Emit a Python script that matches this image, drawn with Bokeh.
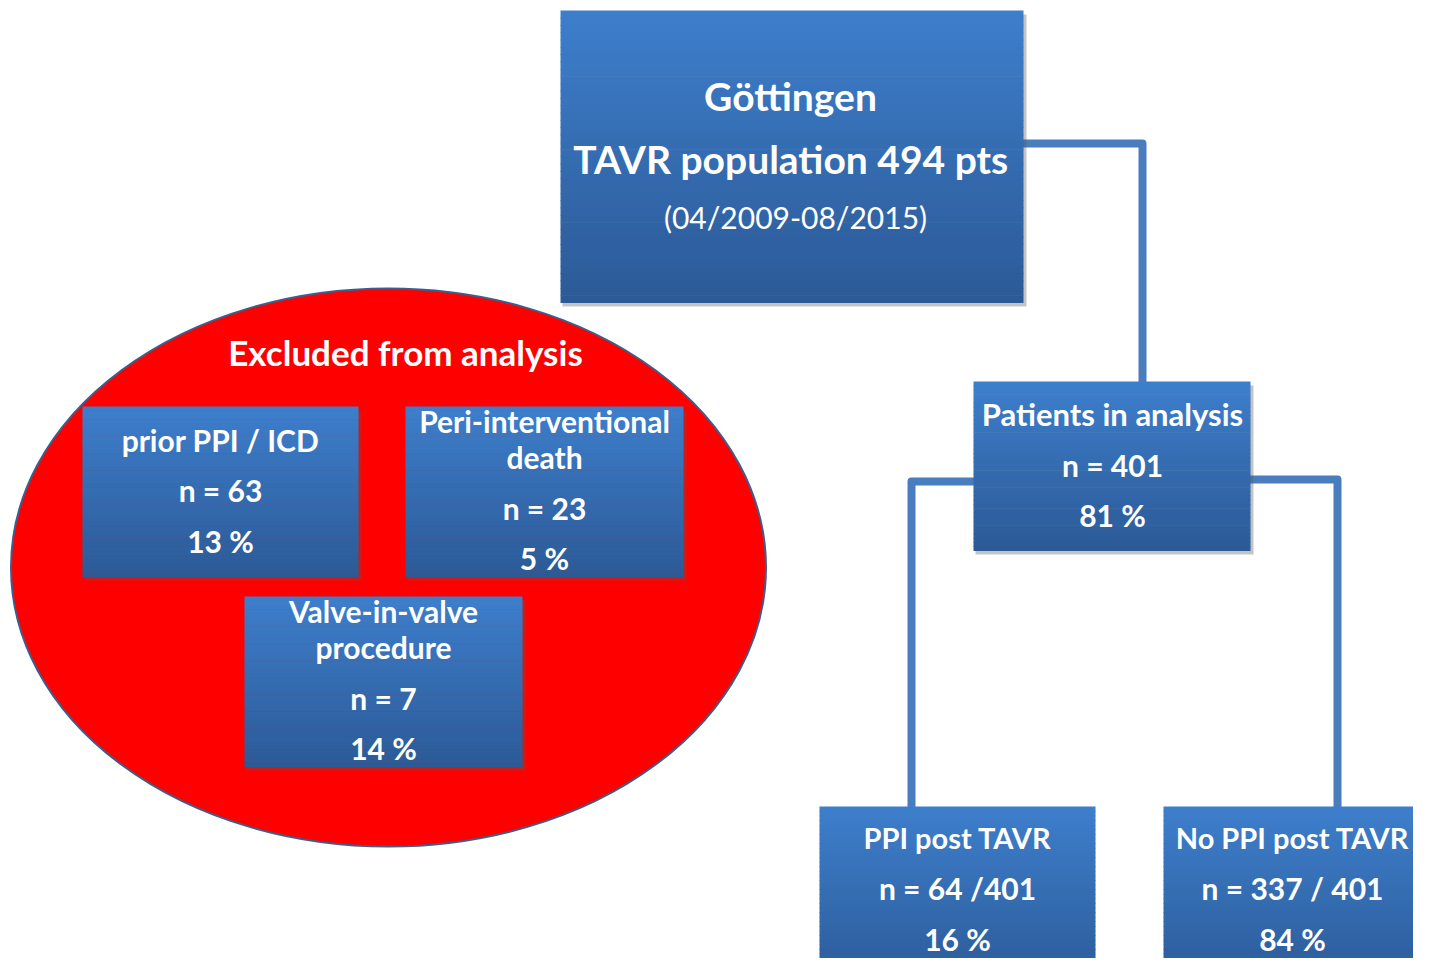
from bokeh.plotting import figure
from bokeh.models import Range1d, ColumnDataSource
from bokeh.embed import file_html
from bokeh.resources import INLINE
from bokeh.core.properties import value

# ---- data ----
total_pts = 494
period = "(04/2009-08/2015)"
excl_labels = [["prior PPI / ICD"], ["Peri-interventional", "death"], ["Valve-in-valve", "procedure"]]
excl_n = [63, 23, 7]
excl_pct = [13, 5, 14]
analysis_n = 401
analysis_pct = 81
group_labels = ["PPI post TAVR", "No PPI post TAVR"]
group_n = ["64 /401", "337 / 401"]
group_pct = [16, 84]

# ---- layout (pixel frame of the picture) ----
W, H = 1413, 958
p = figure(width=W, height=H, x_range=Range1d(0, W), y_range=Range1d(H, 0),
           output_backend="svg", toolbar_location=None, min_border=0)
p.axis.visible = False
p.grid.visible = False
p.outline_line_color = None
p.background_fill_color = "white"

FONT = value("Lato")
TOP_C = (0x3D, 0x7E, 0xCB)
BOT_C = (0x2C, 0x5A, 0x97)
LINE_C = "#4A7DBE"


def grad_box(x0, y0, x1, y1, shadow=True, n=40):
    if shadow:
        p.quad(left=x0 + 2, right=x1 + 3, top=y0 + 4, bottom=y1 + 4,
               fill_color="#555555", fill_alpha=0.35, line_color=None)
    lefts, rights, tops, bottoms, cols = [], [], [], [], []
    h = (y1 - y0) / n
    for i in range(n):
        t = i / (n - 1)
        c = tuple(int(round(a + (b - a) * t)) for a, b in zip(TOP_C, BOT_C))
        lefts.append(x0)
        rights.append(x1)
        tops.append(y0 + i * h)
        bottoms.append(y0 + (i + 1) * h + 0.6)
        cols.append("#%02x%02x%02x" % c)
    src = ColumnDataSource(dict(l=lefts, r=rights, t=tops, b=bottoms, c=cols))
    p.quad(left="l", right="r", top="t", bottom="b", fill_color="c", line_color=None, source=src)


def txt(x, y, s, size, bold=True, color="white"):
    p.text(x=[x], y=[y], text=[s], text_font=FONT, text_font_size=f"{size}px",
           text_font_style="bold" if bold else "normal", text_color=color,
           text_align="center", text_baseline="middle")


# connectors
p.multi_line(xs=[[1016, 1142, 1142], [975, 911, 911], [1248, 1337, 1337]],
             ys=[[143, 143, 385], [481, 481, 810], [479, 479, 810]],
             line_color=LINE_C, line_width=8, line_join="round")

# top box
grad_box(560, 10, 1023, 302)
txt(790, 95, "Göttingen", 39)
txt(795, 158, f"TAVR population  {total_pts} pts", 39)
txt(795, 216, period, 30, bold=False)

# exclusion ellipse
p.ellipse(x=[388], y=[567], width=[755], height=[558], fill_color="#FF0000",
          line_color="#3B5E8C", line_width=2)
txt(405, 351, "Excluded from analysis", 35, color="white")

ex_boxes = [(82, 406, 358, 576), (405, 406, 683, 576), (244, 596, 522, 766)]
for (x0, y0, x1, y1), lab, n, pc in zip(ex_boxes, excl_labels, excl_n, excl_pct):
    grad_box(x0, y0, x1, y1)
    cx = (x0 + x1) / 2
    if len(lab) == 1:
        ys = [y0 + 33, y0 + 83, y0 + 134]
        lines = [lab[0], f"n = {n}", f"{pc} %"]
    else:
        ys = [y0 + 14, y0 + 50, y0 + 101, y0 + 151]
        lines = [lab[0], lab[1], f"n = {n}", f"{pc} %"]
    for yy, s in zip(ys, lines):
        txt(cx, yy, s, 30)

# analysis box
grad_box(973, 381, 1250, 550)
txt(1112, 413, "Patients in analysis", 31)
txt(1112, 464, f"n = {analysis_n}", 30)
txt(1112, 514, f"{analysis_pct} %", 30)

# group boxes
g_boxes = [(819, 806, 1095, 990), (1163, 806, 1425, 990)]
g_cx = [957, 1292]
for (x0, y0, x1, y1), cx, lab, n, pc in zip(g_boxes, g_cx, group_labels, group_n, group_pct):
    grad_box(x0, y0, x1, y1, shadow=False)
    txt(cx, 837, lab, 29)
    txt(cx, 887, f"n = {n}", 30)
    txt(cx, 938, f"{pc} %", 30)

open("out.html", "w").write(file_html(p, INLINE))
